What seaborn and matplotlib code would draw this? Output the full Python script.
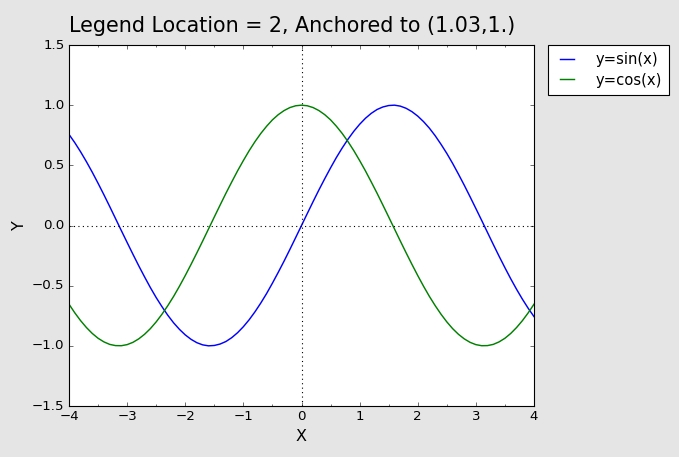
import matplotlib
matplotlib.use("Agg")
import matplotlib.pyplot as plt
import seaborn as sns
from matplotlib.ticker import AutoMinorLocator, MultipleLocator

# valeurs (pas de 0.1)
x_vals = [-4.0, -3.9, -3.8, -3.7, -3.6, -3.5, -3.4, -3.3, -3.2, -3.1,
          -3.0, -2.9, -2.8, -2.7, -2.6, -2.5, -2.4, -2.3, -2.2, -2.1,
          -2.0, -1.9, -1.8, -1.7, -1.6, -1.5, -1.4, -1.3, -1.2, -1.1,
          -1.0, -0.9, -0.8, -0.7, -0.6, -0.5, -0.4, -0.3, -0.2, -0.1,
          0.0, 0.1, 0.2, 0.3, 0.4, 0.5, 0.6, 0.7, 0.8, 0.9,
          1.0, 1.1, 1.2, 1.3, 1.4, 1.5, 1.6, 1.7, 1.8, 1.9,
          2.0, 2.1, 2.2, 2.3, 2.4, 2.5, 2.6, 2.7, 2.8, 2.9,
          3.0, 3.1, 3.2, 3.3, 3.4, 3.5, 3.6, 3.7, 3.8, 3.9, 4.0]
sin_vals = [0.757, 0.688, 0.612, 0.530, 0.443, 0.351, 0.256, 0.158, 0.058, -0.042,
            -0.141, -0.239, -0.335, -0.427, -0.516, -0.599, -0.675, -0.746, -0.809, -0.863,
            -0.909, -0.946, -0.974, -0.992, -1.000, -0.997, -0.985, -0.964, -0.932, -0.891,
            -0.841, -0.783, -0.717, -0.644, -0.565, -0.479, -0.389, -0.296, -0.199, -0.100,
            0.0, 0.100, 0.199, 0.296, 0.389, 0.479, 0.565, 0.644, 0.717, 0.783,
            0.841, 0.891, 0.932, 0.964, 0.985, 0.997, 1.000, 0.992, 0.974, 0.946,
            0.909, 0.863, 0.809, 0.746, 0.675, 0.599, 0.516, 0.427, 0.335, 0.239,
            0.141, 0.042, -0.058, -0.158, -0.256, -0.351, -0.443, -0.530, -0.612, -0.688, -0.757]
cos_vals = [-0.654, -0.726, -0.791, -0.848, -0.897, -0.937, -0.967, -0.988, -0.998, -0.999,
            -0.990, -0.971, -0.942, -0.904, -0.857, -0.801, -0.737, -0.666, -0.589, -0.505,
            -0.416, -0.323, -0.227, -0.129, -0.029, 0.071, 0.170, 0.268, 0.362, 0.454,
            0.540, 0.622, 0.697, 0.765, 0.825, 0.878, 0.921, 0.955, 0.980, 0.995,
            1.000, 0.995, 0.980, 0.955, 0.921, 0.878, 0.825, 0.765, 0.697, 0.622,
            0.540, 0.454, 0.362, 0.268, 0.170, 0.071, -0.029, -0.129, -0.227, -0.323,
            -0.416, -0.505, -0.589, -0.666, -0.737, -0.801, -0.857, -0.904, -0.942, -0.971,
            -0.990, -0.999, -0.998, -0.988, -0.967, -0.937, -0.897, -0.848, -0.791, -0.726, -0.654]

plt.style.use("classic")
fig = plt.figure(figsize=(679 / 80, 457 / 80), dpi=80, facecolor="#e5e5e5")
ax = fig.add_axes([69 / 679, 1 - 406 / 457, (534 - 69) / 679, (406 - 45) / 457])

sns.lineplot(x=x_vals, y=sin_vals, color="b", lw=1.3, label="y=sin(x)", ax=ax)
sns.lineplot(x=x_vals, y=cos_vals, color="g", lw=1.3, label="y=cos(x)", ax=ax)

# axes en pointillés
ax.axhline(0, color="k", ls=":")
ax.axvline(0, color="k", ls=":")

ax.set_xlim(-4, 4)
ax.set_ylim(-1.5, 1.5)
ax.xaxis.set_major_locator(MultipleLocator(1))
ax.xaxis.set_minor_locator(AutoMinorLocator(2))
ax.yaxis.set_major_locator(MultipleLocator(0.5))
ax.set_xlabel("X", fontsize=14.4)
ax.set_ylabel("Y", fontsize=14.4)
ax.set_title("Legend Location = 2, Anchored to (1.03,1.)", loc="left", fontsize=18.6, pad=12)
ax.legend(loc=2, bbox_to_anchor=(1.03, 1.), borderaxespad=0, fontsize=13.3,
          handlelength=1.55, handletextpad=1.15, borderpad=0.5, labelspacing=0.35)

fig.savefig("out.png", dpi=80, facecolor=fig.get_facecolor())
